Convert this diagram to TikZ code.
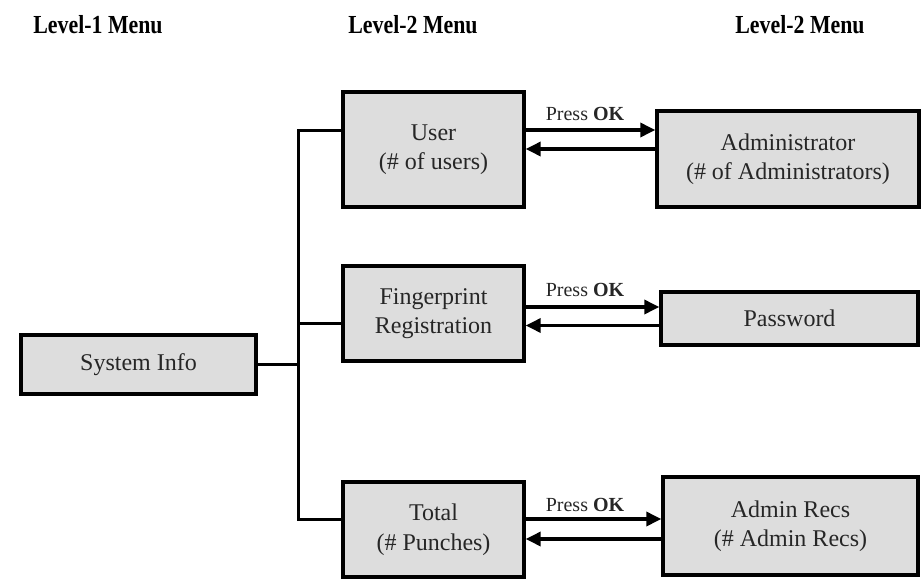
\documentclass[tikz,border=0pt]{standalone}
\usepackage{fontspec}
\setmainfont{Liberation Serif}
\usetikzlibrary{arrows.meta}
\definecolor{boxfill}{HTML}{DDDDDD}
\definecolor{txt}{HTML}{262626}
\begin{document}
\begin{tikzpicture}[x=1pt,y=-1pt,
  menubox/.style={draw=black,line width=3.4pt,fill=boxfill,text=txt,align=center,
    inner sep=0pt,font=\fontsize{24}{29.5}\selectfont},
  hdr/.style={font=\fontsize{26}{30}\selectfont\bfseries,text=black,anchor=base},
  lbl/.style={font=\fontsize{20}{22}\selectfont,text=txt,anchor=base},
  tree/.style={line width=3pt,line cap=rect},
  arr/.style={line width=3.4pt,-{Triangle[length=15pt,width=14pt]}}]
\useasboundingbox (0,0) rectangle (924,579);
% headers
\node[hdr] (h1) at (98,33) {\scalebox{0.84}[1]{Level-1 Menu}};
\node[hdr] (h2) at (413,33) {\scalebox{0.84}[1]{Level-2 Menu}};
\node[hdr] (h3) at (800,33) {\scalebox{0.84}[1]{Level-2 Menu}};
% boxes
\node[menubox,minimum width=235pt,minimum height=59pt] (sys) at (138.5,364.5) {System Info};
\node[menubox,minimum width=181pt,minimum height=115pt] (user) at (433.5,149.5) {User\\(\# of users)};
\node[menubox,minimum width=181pt,minimum height=95pt] (fp) at (433.5,313.5) {Fingerprint\\Registration};
\node[menubox,minimum width=181pt,minimum height=95pt] (total) at (433.5,529.5) {Total\\(\# Punches)};
\node[menubox,minimum width=262pt,minimum height=96pt] (admin) at (788,159) {Administrator\\(\# of Administrators)};
\node[menubox,minimum width=257pt,minimum height=53pt] (pass) at (789.5,318.5) {Password};
\node[menubox,minimum width=255pt,minimum height=98pt] (recs) at (790.5,526) {Admin Recs\\(\# Admin Recs)};
% tree
\coordinate (jU) at (298,130);
\coordinate (jF) at (298,323);
\coordinate (jT) at (298,519);
\draw[tree] (jU) -- (jT);
\draw[tree] (jU) -- (jU -| user.west);
\draw[tree] (jF) -- (jF -| fp.west);
\draw[tree] (jT) -- (jT -| total.west);
\draw[tree] (sys.east) -- (sys.east -| jU);
% arrows
\coordinate (u1) at (0,130); \coordinate (u2) at (0,149);
\coordinate (f1) at (0,307); \coordinate (f2) at (0,325.5);
\coordinate (t1) at (0,519); \coordinate (t2) at (0,539);
\draw[arr] (user.east |- u1) -- (admin.west |- u1);
\draw[arr] (admin.west |- u2) -- (user.east |- u2);
\draw[arr] (fp.east |- f1) -- (pass.west |- f1);
\draw[arr] (pass.west |- f2) -- (fp.east |- f2);
\draw[arr] (total.east |- t1) -- (recs.west |- t1);
\draw[arr] (recs.west |- t2) -- (total.east |- t2);
% labels
\node[lbl] (l1) at (585,120) {Press \textbf{OK}};
\node[lbl] (l2) at (585,296) {Press \textbf{OK}};
\node[lbl] (l3) at (585,511) {Press \textbf{OK}};
\end{tikzpicture}
\end{document}
